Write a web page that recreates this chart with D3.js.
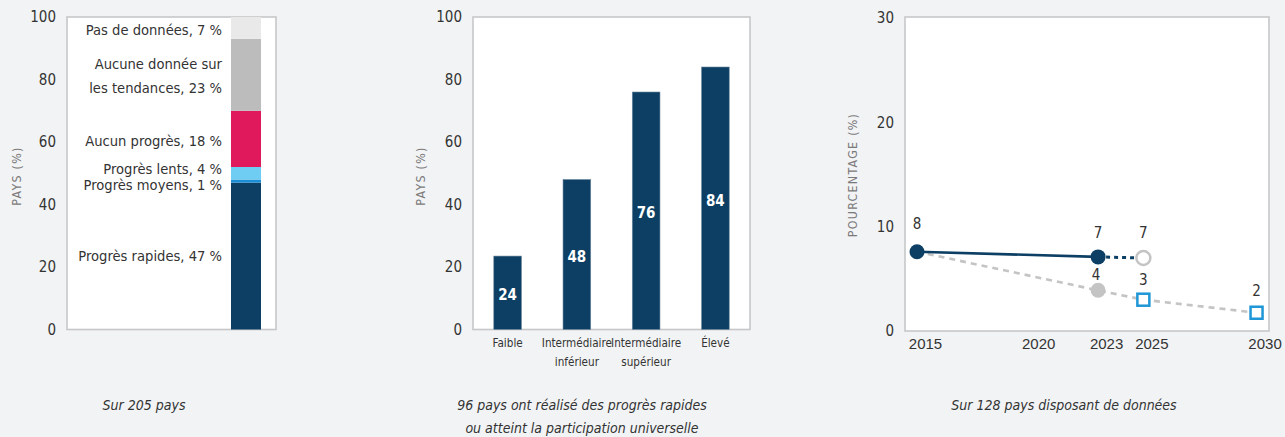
<!DOCTYPE html>
<html><head><meta charset="utf-8">
<script src="https://cdn.jsdelivr.net/npm/d3@7/dist/d3.min.js"></script>
<style>
html,body{margin:0;padding:0;background:#f2f3f5;}
svg{display:block;font-family:"DejaVu Sans Condensed","DejaVu Sans",sans-serif;font-stretch:condensed;}
.tick text{fill:#333;}
</style></head>
<body>
<svg id="c" width="1285" height="437"></svg>
<script>
// ---- Panel 1 data: stacked bar
const stackCategories = ["Progrès rapides", "Progrès moyens", "Progrès lents", "Aucun progrès", "Aucune donnée sur les tendances", "Pas de données"];
const stackValues = [47, 1, 4, 18, 23, 7];
const stackLabels = [["Progrès rapides, 47 %"], ["Progrès moyens, 1 %"], ["Progrès lents, 4 %"], ["Aucun progrès, 18 %"], ["Aucune donnée sur", "les tendances, 23 %"], ["Pas de données, 7 %"]];
const yTicks100 = [0, 20, 40, 60, 80, 100];

// ---- Panel 2 data: bars by income group
const incomeCategories = [["Faible"], ["Intermédiaire", "inférieur"], ["Intermédiaire", "supérieur"], ["Élevé"]];
const incomeValues = [23.5, 48, 76, 84];

// ---- Panel 3 data: lines
const xTickYears = [2015, 2020, 2023, 2025, 2030];
const yTicks30 = [0, 10, 20, 30];
const observedYears = [2015, 2023];
const observedValues = [7.6, 7.1];
const projectedYears = [2023, 2025];
const projectedValues = [7.1, 7.0];
const benchmarkYears = [2015, 2023, 2025, 2030];
const benchmarkValues = [7.6, 3.9, 3.0, 1.75];

const captions = [["Sur 205 pays"], ["96 pays ont réalisé des progrès rapides", "ou atteint la participation universelle"], ["Sur 128 pays disposant de données"]];

const svg = d3.select("#c");
const stackColors = ["#0c3f63", "#1a8ed6", "#6fcdf4", "#df195b", "#bcbcbc", "#e9e9e9"];
const borderColor = "#c6c7c9";
const TOP = 17, BOTTOM = 329.5;

function frame(x0, x1, y0, y1) {
  svg.append("rect").attr("x", x0).attr("y", y0).attr("width", x1 - x0).attr("height", y1 - y0)
    .attr("fill", "#fff").attr("stroke", borderColor).attr("stroke-width", 1.6);
}
function yAxis(scale, ticks, x) {
  const g = svg.append("g").attr("transform", `translate(${x},0)`)
    .call(d3.axisLeft(scale).tickValues(ticks).tickSize(0).tickPadding(11));
  g.select(".domain").remove();
  g.selectAll("text").attr("font-size", 15).attr("font-family", "DejaVu Sans Condensed");
}
function yTitle(text, x, y) {
  svg.append("text").attr("transform", `translate(${x},${y}) rotate(-90)`)
    .attr("text-anchor", "middle").attr("font-size", 12.3).attr("letter-spacing", 1.3)
    .attr("fill", "#7a7a7a").text(text);
}

// ================= Panel 1 =================
{
  const x0 = 67, x1 = 276;
  frame(x0, x1, TOP, BOTTOM);
  const y = d3.scaleLinear().domain([0, 100]).range([BOTTOM, TOP]);
  yAxis(y, yTicks100, x0);
  yTitle("PAYS (%)", 21, 176);
  let cum = 0;
  const segs = stackValues.map((v, i) => { const s = { i, y0: cum, y1: cum + v }; cum += v; return s; });
  const bx = 231, bw = 30;
  svg.append("g").selectAll("rect").data(segs).join("rect")
    .attr("x", bx).attr("width", bw)
    .attr("y", d => y(d.y1)).attr("height", d => y(d.y0) - y(d.y1))
    .attr("fill", d => stackColors[d.i]);
  const dyAdj = [0, 3.5, -4.5, 2, 1, 2];
  segs.forEach(d => {
    const lines = stackLabels[d.i];
    const cy = y((d.y0 + d.y1) / 2) + dyAdj[d.i];
    const lh = 24;
    lines.forEach((t, k) => {
      svg.append("text").attr("x", 222).attr("y", cy + (k - (lines.length - 1) / 2) * lh)
        .attr("dy", "0.36em").attr("text-anchor", "end").attr("font-size", 14.6)
        .attr("fill", "#333").text(t);
    });
  });
}

// ================= Panel 2 =================
{
  const x0 = 473, x1 = 750;
  frame(x0, x1, TOP, BOTTOM);
  const y = d3.scaleLinear().domain([0, 100]).range([BOTTOM, TOP]);
  const x = d3.scaleBand().domain(d3.range(incomeValues.length)).range([x0, x1]).paddingInner(0.6).paddingOuter(0.3);
  yAxis(y, yTicks100, x0);
  yTitle("PAYS (%)", 425, 176);
  svg.append("g").selectAll("rect").data(incomeValues).join("rect")
    .attr("x", (d, i) => x(i)).attr("width", x.bandwidth())
    .attr("y", d => y(d)).attr("height", d => y(0) - y(d))
    .attr("fill", "#0c3f63").attr("stroke", "#6f8aa0").attr("stroke-width", 0.6);
  svg.append("g").selectAll("text").data(incomeValues).join("text")
    .attr("x", (d, i) => x(i) + x.bandwidth() / 2)
    .attr("y", d => y(d / 2) + 2).attr("dy", "0.36em")
    .attr("text-anchor", "middle").attr("font-size", 15).attr("font-weight", "bold")
    .attr("fill", "#fff").text(d => Math.round(d));
  incomeCategories.forEach((lines, i) => {
    lines.forEach((t, k) => {
      svg.append("text").attr("x", x(i) + x.bandwidth() / 2).attr("y", 343 + k * 19)
        .attr("dy", "0.36em").attr("text-anchor", "middle").attr("font-size", 11.6)
        .attr("fill", "#333").text(t);
    });
  });
}

// ================= Panel 3 =================
{
  const x0 = 905, x1 = 1269, yb = 331;
  frame(x0, x1, TOP, yb);
  const y = d3.scaleLinear().domain([0, 30]).range([yb, 18]);
  const x = d3.scaleLinear().domain([2014.47, 2030.55]).range([x0, x1]);
  yAxis(y, yTicks30, x0);
  yTitle("POURCENTAGE (%)", 857, 175);
  const gx = svg.append("g").attr("transform", `translate(0,${yb})`)
    .call(d3.axisBottom(x).tickValues(xTickYears).tickFormat(d3.format("d")).tickSize(0).tickPadding(7));
  gx.select(".domain").remove();
  gx.selectAll("text").attr("font-size", 15).attr("dx", 8);

  const line = d3.line().x(d => x(d[0])).y(d => y(d[1]));
  // benchmark (grey dashed)
  svg.append("path").datum(benchmarkYears.map((yr, i) => [yr, benchmarkValues[i]]))
    .attr("d", line).attr("fill", "none").attr("stroke", "#c4c4c4").attr("stroke-width", 2.6)
    .attr("stroke-dasharray", "6,5");
  // projected (navy dashed)
  svg.append("path").datum(projectedYears.map((yr, i) => [yr, projectedValues[i]]))
    .attr("d", line).attr("fill", "none").attr("stroke", "#0c3f63").attr("stroke-width", 3)
    .attr("stroke-dasharray", "4,4");
  // observed (navy solid)
  svg.append("path").datum(observedYears.map((yr, i) => [yr, observedValues[i]]))
    .attr("d", line).attr("fill", "none").attr("stroke", "#0c3f63").attr("stroke-width", 2.6);

  // benchmark markers
  benchmarkYears.forEach((yr, i) => {
    if (i === 0) return;
    if (i === 1) {
      svg.append("circle").attr("cx", x(yr)).attr("cy", y(benchmarkValues[i])).attr("r", 7.5).attr("fill", "#c4c4c4");
    } else {
      svg.append("rect").attr("x", x(yr) - 6).attr("y", y(benchmarkValues[i]) - 6)
        .attr("width", 12).attr("height", 12).attr("fill", "#fff").attr("stroke", "#1f96d6").attr("stroke-width", 2.5);
    }
  });
  // projected open marker
  svg.append("circle").attr("cx", x(projectedYears[1])).attr("cy", y(projectedValues[1])).attr("r", 7)
    .attr("fill", "#fff").attr("stroke", "#c4c4c4").attr("stroke-width", 2.5);
  // observed markers
  observedYears.forEach((yr, i) => {
    svg.append("circle").attr("cx", x(yr)).attr("cy", y(observedValues[i])).attr("r", 7.5).attr("fill", "#0c3f63");
  });

  // value labels
  const lab = [];
  observedYears.forEach((yr, i) => lab.push([yr, observedValues[i], i === 0 ? 28 : 24]));
  lab.push([projectedYears[1], projectedValues[1], 25]);
  benchmarkYears.forEach((yr, i) => { if (i > 0) lab.push([yr, benchmarkValues[i], [0, 16, 20, 22][i]]); });
  lab.forEach(([yr, v, off]) => {
    svg.append("text").attr("x", x(yr) + (yr === 2023 && v < 5 ? -2 : 0)).attr("y", y(v) - off).attr("dy", "0.36em")
      .attr("text-anchor", "middle").attr("font-size", 15).attr("fill", "#333").text(Math.round(v));
  });
}

// ================= Captions =================
const capX = [144, 582, 1064];
captions.forEach((lines, i) => {
  lines.forEach((t, k) => {
    svg.append("text").attr("x", capX[i]).attr("y", 405 + k * 23).attr("dy", "0.36em")
      .attr("text-anchor", "middle").attr("font-size", 14).attr("font-style", "italic")
      .attr("font-weight", 300).attr("fill", "#333").text(t);
  });
});
</script>
</body></html>
